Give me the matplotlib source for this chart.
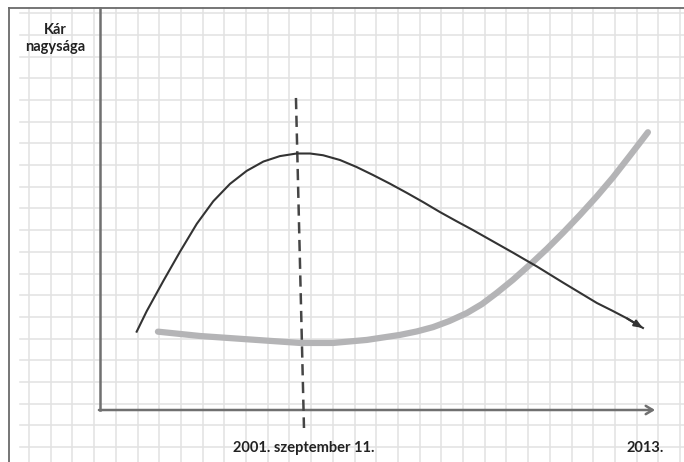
import matplotlib
matplotlib.use("Agg")
import matplotlib.pyplot as plt

# everything measured in grid squares, origin at the axis corner
loss_x = [1.69, 2.15, 2.92, 3.69, 4.46, 5.22, 5.99, 6.76, 7.53, 8.29, 9.06, 9.68,
          10.28, 11.06, 11.82, 12.58, 13.36, 14.15, 14.91, 15.67, 16.43, 17.19,
          17.81, 18.43, 19.05, 19.60, 20.14, 20.74, 21.34, 22.12, 22.90, 23.60,
          24.29, 25.02]
loss_y = [3.61, 4.55, 5.95, 7.30, 8.58, 9.62, 10.42, 11.02, 11.45, 11.70, 11.82, 11.82,
          11.74, 11.52, 11.20, 10.83, 10.43, 10.00, 9.57, 9.12, 8.70, 8.29,
          7.94, 7.59, 7.24, 6.92, 6.61, 6.24, 5.87, 5.40, 4.93, 4.58,
          4.22, 3.78]

gray_x = [2.67, 4.61, 6.91, 9.22, 10.74, 12.30, 13.82, 14.60, 15.35, 16.10, 16.91,
          17.60, 18.29, 19.03, 19.95, 20.60, 21.34, 22.12, 22.90, 23.64, 24.42, 25.25]
gray_y = [3.61, 3.41, 3.25, 3.09, 3.09, 3.23, 3.46, 3.62, 3.82, 4.10, 4.47,
          4.88, 5.40, 6.00, 6.82, 7.43, 8.17, 8.99, 9.85, 10.72, 11.72, 12.80]

event_x = [9.03, 9.40]
event_y = [14.38, -0.83]

y_label = "Kár\nnagysága"
x_labels = ["2001. szeptember 11.", "2013."]
x_label_pos = [9.40, 25.12]

fig = plt.figure(figsize=(6.84, 4.62), dpi=100)
ax = fig.add_axes([0, 0, 1, 1])
x0, x1 = -100 / 21.7, 584 / 21.7
y0, y1 = -52 / 21.7, 410 / 21.7
ax.set_xlim(x0, x1)
ax.set_ylim(y0, y1)
ax.axis("off")

top = 18.53
left = -4.19

# squared paper
grid_c = "#e2e2e2"
for k in range(31):
    gx = -3.27 + k
    ax.plot([gx, gx], [y0, top], color=grid_c, lw=1.1, zorder=0)
for k in range(21):
    gy = 18.29 - k
    ax.plot([-3.69, x1], [gy, gy], color=grid_c, lw=1.1, zorder=0)

# frame
ax.plot([left, x1], [top, top], color="#6a6a6a", lw=1.3, zorder=1)
ax.plot([left, left], [y0, top], color="#6a6a6a", lw=1.3, zorder=1)

# axes
axis_c = "#707070"
ax.plot([0, 0], [0, top], color=axis_c, lw=1.8, zorder=2)
ax.annotate("", xy=(25.58, 0), xytext=(-0.05, 0),
            arrowprops=dict(arrowstyle="->,head_length=0.5,head_width=0.3",
                            color=axis_c, lw=1.8, shrinkA=0, shrinkB=0),
            zorder=2)

# event line
ax.plot(event_x, event_y, color="#454545", lw=1.8, ls=(0, (4.5, 2.6)), zorder=3)

# curves
ax.plot(gray_x, gray_y, color="#b4b4b6", lw=4.5, solid_capstyle="round",
        solid_joinstyle="round", zorder=4)
ax.plot(loss_x, loss_y, color="#333333", lw=1.5, solid_joinstyle="round", zorder=5)
ax.annotate("", xy=(loss_x[-1], loss_y[-1]), xytext=(loss_x[-2], loss_y[-2]),
            arrowprops=dict(arrowstyle="-|>,head_length=0.5,head_width=0.2",
                            color="#333333", lw=1.5, shrinkA=0, shrinkB=0),
            zorder=5)

font = ["Lato", "DejaVu Sans"]
ax.text(-2.07, 17.12, y_label, ha="center", va="center", fontsize=10.5,
        fontweight="bold", family=font, color="#222222", linespacing=1.3)
for lab, px in zip(x_labels, x_label_pos):
    ax.text(px, -1.75, lab, ha="center", va="center", fontsize=10.5,
            fontweight="bold", family=font, color="#222222")

fig.savefig("out.png", dpi=100, facecolor="white")
